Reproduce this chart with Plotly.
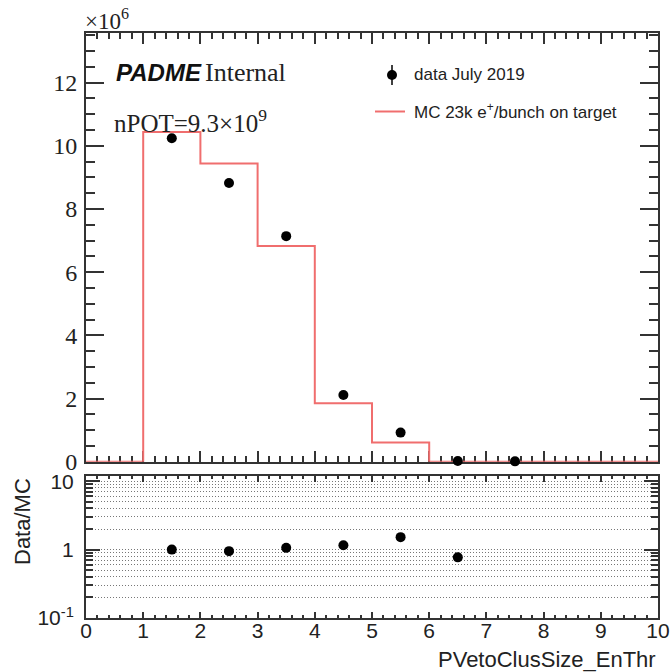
import plotly.graph_objects as go

# ---------------- data ----------------
bin_edges = [0, 1, 2, 3, 4, 5, 6, 7, 8, 9, 10]
mc_millions = [0, 10.44, 9.44, 6.83, 1.85, 0.61, 0, 0, 0, 0]          # MC histogram, x10^6
data_x = [1.5, 2.5, 3.5, 4.5, 5.5, 6.5, 7.5]
data_millions = [10.24, 8.82, 7.14, 2.11, 0.92, 0.02, 0.01]           # data July 2019, x10^6
ratio_x = [1.5, 2.5, 3.5, 4.5, 5.5, 6.5]
ratio_vals = [1.00, 0.95, 1.06, 1.16, 1.52, 0.77]                      # Data/MC
x_major = [0, 1, 2, 3, 4, 5, 6, 7, 8, 9, 10]
ratio_ticks = [0.1, 1, 10]
ratio_ticktext = ["10<sup>-1</sup>", "1", "10"]
ratio_minor = [0.2, 0.3, 0.4, 0.5, 0.6, 0.7, 0.8, 0.9, 2, 3, 4, 5, 6, 7, 8, 9]

# ---------------- style ----------------
W, H = 671, 672
ML, MR, MT, MB = 86, 13, 33, 54
PW, PH = W - ML - MR, H - MT - MB
RED = "rgb(240,110,110)"
FRAME = "#333333"
SERIF = "Liberation Serif, Times New Roman, serif"
SANS = "Liberation Sans, Arial, Helvetica, sans-serif"


def px(xp):
    return (xp - ML) / PW


def py(yp):
    return (H - MB - yp) / PH


mc_step = mc_millions + [mc_millions[-1]]

fig = go.Figure()
fig.add_trace(go.Scatter(x=bin_edges, y=mc_step, mode="lines",
                         line=dict(color=RED, width=2, shape="hv"),
                         xaxis="x2", yaxis="y2", showlegend=False, cliponaxis=False))
fig.add_trace(go.Scatter(x=data_x, y=data_millions, mode="markers",
                         marker=dict(color="black", size=10),
                         xaxis="x2", yaxis="y2", showlegend=False, cliponaxis=False))
fig.add_trace(go.Scatter(x=ratio_x, y=ratio_vals, mode="markers",
                         marker=dict(color="black", size=10),
                         xaxis="x", yaxis="y", showlegend=False))

common_x = dict(range=[0, 10], tickmode="array", tickvals=x_major, ticks="inside",
                tickcolor=FRAME, tickwidth=1.5, mirror="allticks", showline=True,
                linewidth=2, linecolor=FRAME, showgrid=False, zeroline=False,
                automargin=False, layer="below traces")

fig.update_layout(
    width=W, height=H, margin=dict(l=ML, r=MR, t=MT, b=MB, autoexpand=False),
    paper_bgcolor="white", plot_bgcolor="white", showlegend=False,
    xaxis=dict(**common_x, domain=[0, 1], anchor="y", ticklen=6,
               minor=dict(dtick=0.2, tick0=0, ticklen=3, ticks="inside", tickcolor=FRAME),
               tickfont=dict(family=SANS, size=21, color="#222"), ticklabelstandoff=-7),
    xaxis2=dict(**common_x, domain=[0, 1], anchor="y2", matches="x", ticklen=11,
                showticklabels=False,
                minor=dict(dtick=0.2, tick0=0, ticklen=6, ticks="inside", tickcolor=FRAME)),
    yaxis=dict(type="log", range=[-1, 1.08], domain=[0, 0.2432], anchor="x",
               tickmode="array", tickvals=ratio_ticks, ticktext=ratio_ticktext,
               ticks="inside", ticklen=14, tickwidth=1.5, tickcolor=FRAME, mirror="allticks",
               showline=True, linewidth=2, linecolor=FRAME, zeroline=False, automargin=False,
               showgrid=True, gridcolor="#777777", gridwidth=1, griddash="1px,2px",
               minor=dict(tickvals=ratio_minor, ticklen=7, ticks="inside", tickcolor=FRAME,
                          showgrid=True, gridcolor="#777777", gridwidth=1, griddash="1px,2px"),
               tickfont=dict(family=SANS, size=21, color="#222"), ticklabelstandoff=6),
    yaxis2=dict(range=[0, 13.57], domain=[0.2672, 1], anchor="x2",
                tickmode="linear", tick0=0, dtick=2, ticks="inside", ticklen=18,
                tickwidth=1.5, tickcolor=FRAME, mirror="allticks", automargin=False,
                showline=True, linewidth=2, linecolor=FRAME, zeroline=False, showgrid=False,
                minor=dict(dtick=0.5, tick0=0, ticklen=9, ticks="inside", tickcolor=FRAME),
                tickfont=dict(family=SERIF, size=24, color="#222"), ticklabelstandoff=2),
)

ann = []
ann.append(dict(text="×10<sup>6</sup>", x=px(83), y=py(19), xref="paper", yref="paper",
                xanchor="left", yanchor="middle", showarrow=False,
                font=dict(family=SERIF, size=23, color="#222")))
ann.append(dict(text="<b><i>PADME</i></b>", x=px(114), y=py(73), xref="paper", yref="paper",
                xanchor="left", yanchor="middle", showarrow=False,
                font=dict(family=SANS, size=24, color="#111")))
ann.append(dict(text="Internal", x=px(203), y=py(73), xref="paper", yref="paper",
                xanchor="left", yanchor="middle", showarrow=False,
                font=dict(family=SERIF, size=26, color="#222")))
ann.append(dict(text="nPOT=9.3×10<sup>9</sup>", x=px(112), y=py(121), xref="paper", yref="paper",
                xanchor="left", yanchor="middle", showarrow=False,
                font=dict(family=SERIF, size=25, color="#222")))
ann.append(dict(text="data July 2019", x=px(412), y=py(75), xref="paper", yref="paper",
                xanchor="left", yanchor="middle", showarrow=False,
                font=dict(family=SANS, size=17, color="#222")))
ann.append(dict(text="MC 23k e<sup>+</sup>/bunch on target", x=px(412), y=py(111), xref="paper",
                yref="paper", xanchor="left", yanchor="middle", showarrow=False,
                font=dict(family=SANS, size=17, color="#222")))
ann.append(dict(text="Data/MC", x=px(22), y=py(522), xref="paper", yref="paper",
                xanchor="center", yanchor="middle", textangle=-90, showarrow=False,
                font=dict(family=SANS, size=22, color="#222")))
ann.append(dict(text="PVetoClusSize_EnThr", x=px(658), y=py(659), xref="paper", yref="paper",
                xanchor="right", yanchor="middle", showarrow=False,
                font=dict(family=SANS, size=22, color="#222")))

shapes = []
# legend symbols
shapes.append(dict(type="line", xref="paper", yref="paper", x0=px(392), x1=px(392),
                   y0=py(65), y1=py(85), line=dict(color="black", width=1.5)))
shapes.append(dict(type="circle", xref="paper", yref="paper", xsizemode="pixel", ysizemode="pixel",
                   xanchor=px(392), yanchor=py(75), x0=-5, x1=5, y0=-5, y1=5,
                   fillcolor="black", line=dict(color="black", width=0)))
shapes.append(dict(type="line", xref="paper", yref="paper", x0=px(375), x1=px(405),
                   y0=py(111.5), y1=py(111.5), line=dict(color=RED, width=2)))

fig.update_layout(annotations=ann, shapes=shapes)
fig.write_html("out.html")
